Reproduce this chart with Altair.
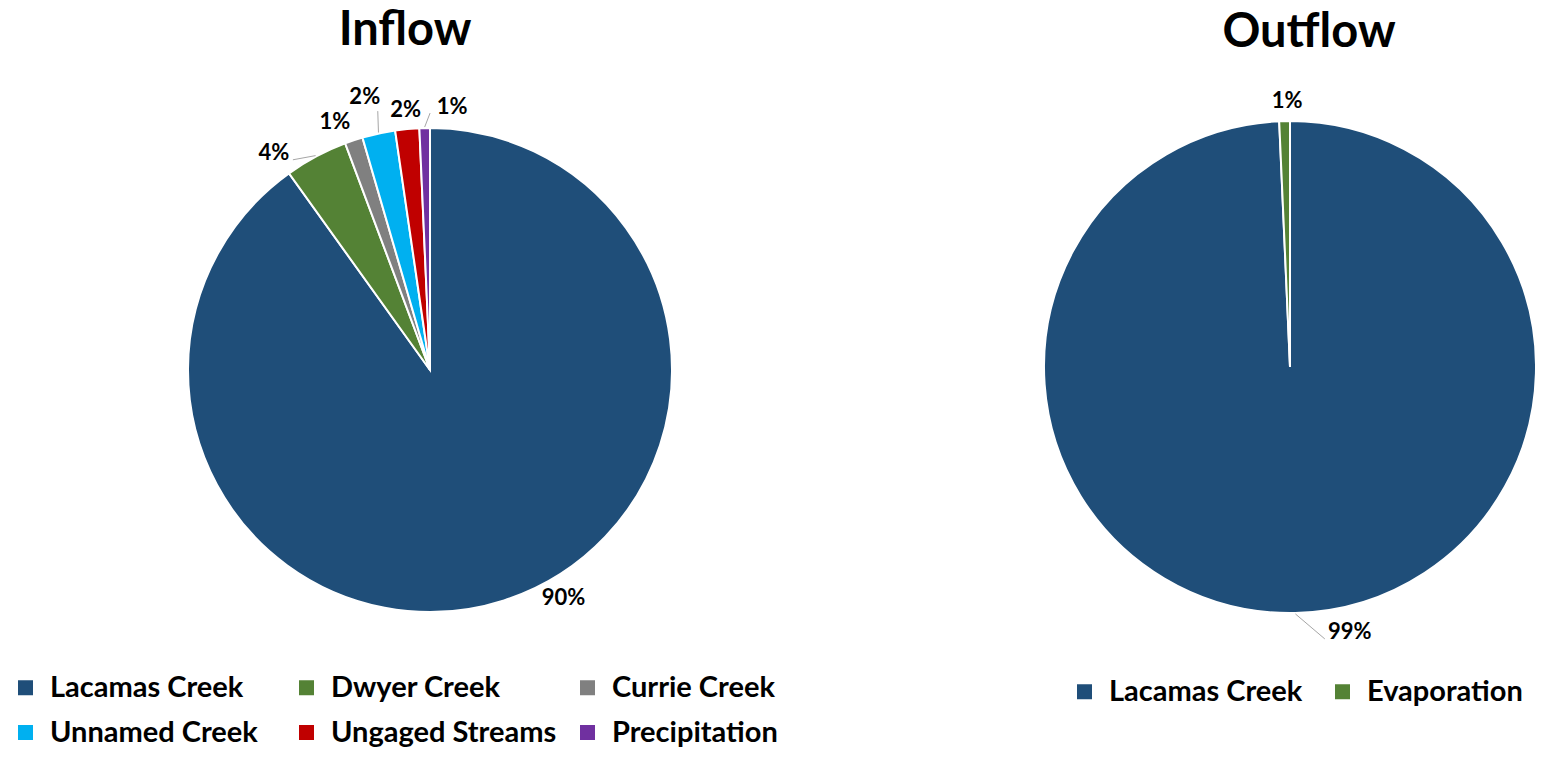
import altair as alt
import pandas as pd

# ---- data ----
in_sources = ["Lacamas Creek", "Dwyer Creek", "Currie Creek", "Unnamed Creek",
              "Ungaged Streams", "Precipitation"]
in_values = [90.1, 4.2, 1.2, 2.2, 1.6, 0.7]
in_colors = ["#1F4E79", "#548235", "#808080", "#00B0F0", "#C00000", "#7030A0"]

out_sources = ["Lacamas Creek", "Evaporation"]
out_values = [99.3, 0.7]
out_colors = ["#1F4E79", "#548235"]

FONT = "Lato"
W, H = 1527, 740
theta_scale = alt.Scale(domain=[0, 100])


def pie_layers(title, sources, values, colors, cx, cy, radius, label_radius,
               nudges, leaders, legend_x, legend_y, legend_cols, col_pad, title_xy):
    df = pd.DataFrame({"source": sources, "value": values,
                       "idx": list(range(len(sources)))})
    base = alt.Chart(df).transform_window(
        cum="sum(value)", sort=[alt.SortField("idx")], frame=[None, 0]
    ).transform_calculate(
        start="datum.cum - datum.value"
    ).transform_calculate(
        mid="datum.cum - datum.value / 2"
    ).transform_calculate(
        frac="datum.value / 100"
    ).transform_calculate(
        ang="datum.mid / 100 * 2 * PI"
    )
    arcs = base.mark_arc(outerRadius=radius, stroke="white", strokeWidth=2,
                         x=cx, y=cy).encode(
        theta=alt.Theta("start:Q", scale=theta_scale),
        theta2="cum:Q",
        color=alt.Color(
            "source:N",
            scale=alt.Scale(domain=sources, range=colors),
            sort=sources,
            legend=alt.Legend(
                title=None, orient="none", legendX=legend_x, legendY=legend_y,
                columns=legend_cols, direction="horizontal", gridAlign="all",
                columnPadding=col_pad, rowPadding=15, symbolType="square",
                symbolSize=225, symbolStrokeWidth=0, labelFont=FONT,
                labelFontSize=29, labelFontWeight="bold", labelColor="black",
                labelOffset=10, padding=0, labelLimit=400,
            ),
        ),
    )
    layers = [arcs]
    # leader lines from slice edge to label
    for s, (ox, oy) in leaders.items():
        dx, dy = nudges.get(s, (0, 0))
        layers.append(
            base.transform_filter(alt.datum.source == s).transform_calculate(
                ex=f"{cx} + {radius + 1} * sin(datum.ang)"
            ).transform_calculate(
                ey=f"{cy} - {radius + 1} * cos(datum.ang)"
            ).transform_calculate(
                lx=f"{cx} + {label_radius} * sin(datum.ang) + {dx + ox}"
            ).transform_calculate(
                ly=f"{cy} - {label_radius} * cos(datum.ang) + {dy + oy}"
            ).mark_rule(color="#A6A6A6", strokeWidth=1).encode(
                x=alt.X("ex:Q", scale=None, axis=None),
                y=alt.Y("ey:Q", scale=None, axis=None),
                x2="lx:Q",
                y2="ly:Q",
            )
        )
    for s in sources:
        dx, dy = nudges.get(s, (0, 0))
        layers.append(
            base.transform_filter(alt.datum.source == s).mark_text(
                radius=label_radius, dx=dx, dy=dy, x=cx, y=cy, font=FONT,
                fontSize=22, fontWeight="bold", color="black",
            ).encode(
                theta=alt.Theta("mid:Q", scale=theta_scale),
                text=alt.Text("frac:Q", format=".0%"),
            )
        )
    ttl = alt.Chart(pd.DataFrame({"t": [title]})).mark_text(
        font=FONT, fontSize=47, fontWeight="bold", color="black",
        baseline="alphabetic",
    ).encode(x=alt.value(title_xy[0]), y=alt.value(title_xy[1]), text="t:N")
    layers.append(ttl)
    return alt.layer(*layers).resolve_scale(color="independent")


inflow = pie_layers(
    "Inflow", in_sources, in_values, in_colors, 422, 362, 242, 270,
    {"Lacamas Creek": (51, -29), "Dwyer Creek": (-29, 21), "Currie Creek": (-10, 8),
     "Unnamed Creek": (-8, -9), "Ungaged Streams": (1, 9), "Precipitation": (28, 7)},
    {"Dwyer Creek": (19, 7), "Unnamed Creek": (13, 14), "Precipitation": (-22, 6)},
    3, 665, 3, 16, (397, 37),
)
outflow = pie_layers(
    "Outflow", out_sources, out_values, out_colors, 1282, 359, 246, 265,
    {"Lacamas Creek": (54, 0), "Evaporation": (3, -1)},
    {"Lacamas Creek": (-25, 7)},
    1062, 669, 2, 25, (1301, 39),
)

chart = alt.layer(inflow, outflow).resolve_scale(color="independent").properties(
    width=W, height=H, padding=0,
    autosize=alt.AutoSizeParams(type="none"),
).configure_view(stroke=None)

chart.save("out.html", embed_options={"renderer": "svg", "actions": False})
